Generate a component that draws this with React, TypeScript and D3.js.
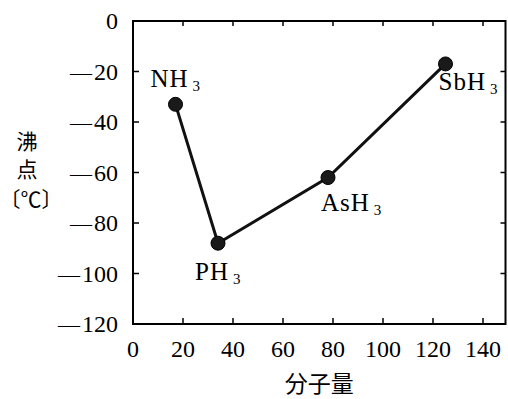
import React from "react";
import * as d3 from "d3";

// hydrides of group 15: molecular weight vs boiling point
const compounds = ["NH", "PH", "AsH", "SbH"];
const molWeight = [17, 34, 78, 125];
const boilingPoint = [-33, -88, -62, -17];
const xTicks = [0, 20, 40, 60, 80, 100, 120, 140];
const yTicks = [0, -20, -40, -60, -80, -100, -120];

// where each label sits relative to its point (px)
const labelOffset = [
  [-25, -17],
  [-23, 37],
  [-7, 33],
  [-7, 26],
];

const W = 508, H = 399;
const left = 133, right = 505.5, top = 21, bottom = 324;
const serif = "Liberation Serif, Times New Roman, serif";
const cjk = "Noto Sans CJK JP, Noto Sans CJK SC, sans-serif";

const App = () => {
  const x = d3.scaleLinear().domain([0, 149]).range([left, right]);
  const y = d3.scaleLinear().domain([0, -120]).range([top, bottom]);

  const pts = molWeight.map((m, i) => [x(m), y(boilingPoint[i])] as [number, number]);
  const line = d3.line()(pts);

  return (
    <svg width={W} height={H} style={{ position: "absolute", left: 0, top: 0, background: "#fff" }}>
      {/* ticks, inward on all four sides */}
      {xTicks.slice(1).map(t => (
        <g key={"xt" + t}>
          <line x1={x(t)} x2={x(t)} y1={bottom} y2={bottom - 6} stroke="#000" strokeWidth={1.5} />
          <line x1={x(t)} x2={x(t)} y1={top} y2={top + 5} stroke="#000" strokeWidth={1.5} />
        </g>
      ))}
      {yTicks.slice(1, -1).map(t => (
        <g key={"yt" + t}>
          <line x1={left} x2={left + 6} y1={y(t)} y2={y(t)} stroke="#000" strokeWidth={1.5} />
          <line x1={right} x2={right - 5} y1={y(t)} y2={y(t)} stroke="#000" strokeWidth={1.5} />
        </g>
      ))}
      <rect x={left} y={top} width={right - left} height={bottom - top} fill="none" stroke="#000" strokeWidth={2} />

      <g style={{ fontFamily: serif }} fill="#000">
        {xTicks.map(t => (
          <text key={"xl" + t} x={x(t)} y={357} textAnchor="middle" fontSize={24}>
            {t}
          </text>
        ))}
        {yTicks.map(t => (
          <text key={"yl" + t} x={118} y={y(t) + 8} textAnchor="end" fontSize={24}>
            {t < 0 ? <tspan fontSize={22}>—</tspan> : null}
            {t < 0 ? <tspan dx={2}>{Math.abs(t)}</tspan> : t}
          </text>
        ))}
      </g>

      <path d={line || ""} fill="none" stroke="#111" strokeWidth={3} />
      {pts.map((p, i) => (
        <circle key={"c" + i} cx={p[0]} cy={p[1]} r={7} fill="#1a1a1a" stroke="#000" strokeWidth={1} />
      ))}

      <g style={{ fontFamily: serif }} fill="#000">
        {pts.map((p, i) => (
          <text key={"lab" + i} x={p[0] + labelOffset[i][0]} y={p[1] + labelOffset[i][1]}
            fontSize={25} letterSpacing={1}>
            {compounds[i]}
            <tspan fontSize={15} dx={4} dy={4}>3</tspan>
          </text>
        ))}
      </g>

      <g style={{ fontFamily: cjk }} fill="#000" textAnchor="middle">
        <text x={27} y={149} fontSize={21}>沸</text>
        <text x={27} y={177} fontSize={21}>点</text>
        <text x={31} y={207} fontSize={21}>〔℃〕</text>
        <text x={(left + right) / 2} y={392} fontSize={23}>分子量</text>
      </g>
    </svg>
  );
};

export default App;
